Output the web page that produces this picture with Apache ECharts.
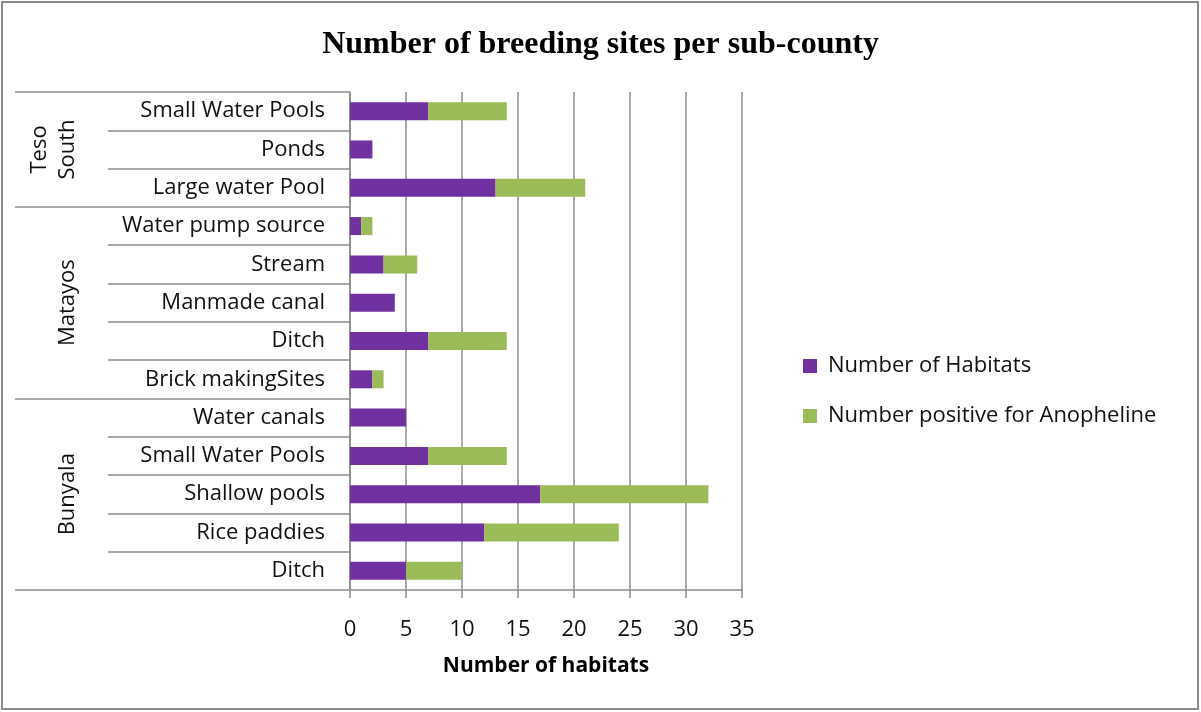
<!DOCTYPE html>
<html>
<head>
<meta charset="utf-8">
<script src="https://cdn.jsdelivr.net/npm/echarts@6/dist/echarts.min.js"></script>
<style>
html,body{margin:0;padding:0;background:#fff;}
#chart{width:1201px;height:712px;}
</style>
</head>
<body>
<div id="chart"></div>
<script>
// Categories listed bottom to top
const categories = ['Ditch','Rice paddies','Shallow pools','Small Water Pools','Water canals',
  'Brick makingSites','Ditch','Manmade canal','Stream','Water pump source',
  'Large water Pool','Ponds','Small Water Pools'];
const habitats = [5,12,17,7,5, 2,7,4,3,1, 13,2,7];
const positive = [5,12,15,7,0, 1,7,0,3,1, 8,0,7];
const groups = ['Bunyala','Matayos','Teso\nSouth'];
const groupBounds = [0,5,10,13];
const groupCenters = [2.5,7.5,11.5];
const xTicks = [0,5,10,15,20,25,30,35];

const font = '"Open Sans", Lato, sans-serif';
const chart = echarts.init(document.getElementById('chart'));
chart.setOption({
  animation:false,
  backgroundColor:'#fff',
  title:{text:'Number of breeding sites per sub-county',left:'center',top:24,
    textStyle:{fontFamily:'"Liberation Serif", serif',fontWeight:'bold',fontSize:32,color:'#000'}},
  graphic:[{type:'rect',shape:{x:2,y:2,width:1196,height:707},style:{fill:'none',stroke:'#8c8c8c',lineWidth:2},silent:true}],
  legend:{orient:'vertical',left:798,top:350,itemWidth:14,itemHeight:14,itemGap:28,icon:'rect',
    textStyle:{fontFamily:font,fontSize:22,color:'#111',padding:[0,0,0,6]},
    data:['Number of Habitats','Number positive for Anopheline']},
  grid:{left:350,right:459,top:92,bottom:122,containLabel:false},
  xAxis:{type:'value',min:xTicks[0],max:xTicks[xTicks.length-1],interval:5,
    axisLine:{show:true,lineStyle:{color:'#8c8c8c',width:1.5}},
    axisTick:{show:true,length:8,lineStyle:{color:'#8c8c8c',width:1.5}},
    splitLine:{show:true,lineStyle:{color:'#8c8c8c',width:1.5}},
    axisLabel:{fontFamily:font,fontSize:22,color:'#111',margin:29},
    name:'Number of habitats',nameLocation:'middle',nameGap:66,
    nameTextStyle:{fontFamily:font,fontSize:21,fontWeight:'bold',color:'#000'}},
  yAxis:[{type:'category',data:categories,position:'left',
    axisLine:{show:true,lineStyle:{color:'#8c8c8c',width:1.5}},
    axisTick:{show:true,length:242,interval:0,lineStyle:{color:'#8c8c8c',width:1.5}},
    axisLabel:{fontFamily:font,fontSize:22,color:'#111',margin:25,interval:0,padding:[6,0,0,0]}},
   {type:'value',min:0,max:13,position:'left',
    axisLine:{show:false},
    splitLine:{show:false},
    axisTick:{show:true,length:335,customValues:groupBounds,lineStyle:{color:'#8c8c8c',width:1.5}},
    axisLabel:{show:true,customValues:groupCenters,rotate:90,margin:268,
      fontFamily:font,fontSize:22,color:'#111',lineHeight:28,
      formatter:function(v){return groups[groupCenters.indexOf(v)];}}}],
  series:[
    {name:'Number of Habitats',type:'bar',stack:'a',data:habitats,barWidth:18,itemStyle:{color:'#7030A0'}},
    {name:'Number positive for Anopheline',type:'bar',stack:'a',data:positive,barWidth:18,itemStyle:{color:'#9BBB59'}}
  ]
});
</script>
</body>
</html>
